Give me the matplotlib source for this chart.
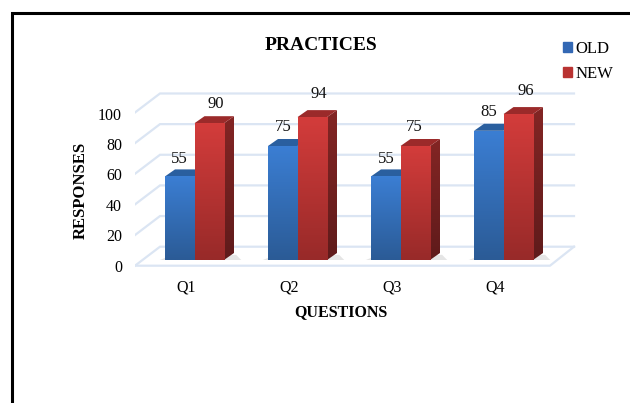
import matplotlib
matplotlib.use('Agg')
import matplotlib.pyplot as plt
import matplotlib.transforms as mtrans
from matplotlib.lines import Line2D
from matplotlib.patches import Patch, Polygon
import numpy as np

plt.rcParams['font.family'] = ['Liberation Serif', 'DejaVu Serif']

questions = ['Q1', 'Q2', 'Q3', 'Q4']
old_values = [55, 75, 55, 85]
new_values = [90, 94, 75, 96]
y_ticks = [0, 20, 40, 60, 80, 100]

W, H = 630, 403
fig = plt.figure(figsize=(W / 100, H / 100), dpi=100)

# pixel layout of the plot, x = 194.5 + 103 * category, y = 260 - 1.52 * value
X0, X_STEP, Y0, Y_STEP = 194.5, 103.0, 260.0, 1.52
px_left, px_right, px_top, px_bottom = 135, 580, 85, 270
ax = fig.add_axes([px_left / W, 1 - px_bottom / H, (px_right - px_left) / W, (px_bottom - px_top) / H])
ax.set_xlim((px_left - X0) / X_STEP, (px_right - X0) / X_STEP)
ax.set_ylim((Y0 - px_bottom) / Y_STEP, (Y0 - px_top) / Y_STEP)
ax.patch.set_alpha(0)
for s in ax.spines.values():
    s.set_visible(False)

bar_w = 29.5 / X_STEP
depth_x = 10 / X_STEP
depth_y = 7 / Y_STEP

# wall and floor offsets of the fake 3d box
front_x = (135 - X0) / X_STEP
back_x = (160 - X0) / X_STEP
end_front = (550 - X0) / X_STEP
end_back = (574 - X0) / X_STEP
front_y = -5.7 / Y_STEP
back_y = 13.3 / Y_STEP
grid_scale = 1.008
grid_col = '#dbe5f3'

for v in y_ticks:
    vy = v * grid_scale
    ax.plot([front_x, back_x, end_back], [vy + front_y, vy + back_y, vy + back_y],
            color=grid_col, lw=1.6, zorder=1, solid_joinstyle='miter')
ax.plot([front_x, end_front, end_back], [front_y, front_y, back_y], color=grid_col, lw=1.6, zorder=1)


def gradient_bars(xs, values, top_col, bottom_col, roof_col, side_top, side_bottom):
    bars = ax.bar(xs, values, width=bar_w, color='none', linewidth=0, zorder=4)
    for b, v in zip(bars, values):
        x0, x1 = b.get_x(), b.get_x() + b.get_width()
        # floor shadow, light and short
        ax.add_patch(Polygon([(x0 - 0.05, 0), (x1 + depth_x + 0.07, 0), (x1 + depth_x + 0.02, depth_y * 0.75),
                              (x0, depth_y * 0.3)], closed=True, color='#d4d4d4', alpha=0.6, lw=0, zorder=2))
        # right side
        side = Polygon([(x1, 0), (x1 + depth_x, depth_y), (x1 + depth_x, v + depth_y), (x1, v)],
                       closed=True, color='none', lw=0, zorder=3)
        ax.add_patch(side)
        grad = np.linspace(0, 1, 64)[:, None, None]
        img = np.array(side_top)[None, None, :] * (1 - grad) + np.array(side_bottom)[None, None, :] * grad
        im = ax.imshow(img, extent=[x1, x1 + depth_x, 0, v + depth_y], origin='upper',
                       aspect='auto', zorder=3, interpolation='bilinear')
        im.set_clip_path(side)
        # roof
        ax.add_patch(Polygon([(x0, v), (x1, v), (x1 + depth_x, v + depth_y), (x0 + depth_x, v + depth_y)],
                             closed=True, color=roof_col, lw=0, zorder=3))
        # front
        img = np.array(top_col)[None, None, :] * (1 - grad) + np.array(bottom_col)[None, None, :] * grad
        im = ax.imshow(img, extent=[x0, x1, 0, v], origin='upper', aspect='auto',
                       zorder=4, interpolation='bilinear')
        im.set_clip_path(b)
    return bars


def rgb(h):
    return matplotlib.colors.to_rgb(h)


x = np.arange(len(questions))
gradient_bars(x - bar_w / 2, old_values, rgb('#3b7ed3'), rgb('#2b5b96'), '#2a5f9f', rgb('#2a5f9f'), rgb('#1f4470'))
gradient_bars(x + bar_w / 2, new_values, rgb('#d33c3b'), rgb('#982a29'), '#9b2a2a', rgb('#832524'), rgb('#5f1b1b'))

ax.set_xlim((px_left - X0) / X_STEP, (px_right - X0) / X_STEP)
ax.set_ylim((Y0 - px_bottom) / Y_STEP, (Y0 - px_top) / Y_STEP)

# data labels, pixel nudges from the top of each bar
old_dx, old_gap = [0, 0, 1, 0], [17, 19, 17, 19]
new_dx, new_gap = [7, 7, -1, 8], [19, 23, 19, 23]
for xi, v, dx, gap in zip(x - bar_w / 2, old_values, old_dx, old_gap):
    ax.annotate(str(v), (xi, v), xytext=(dx * 0.72, gap * 0.72), textcoords='offset points',
                ha='center', va='center', fontsize=12, color='#111111', zorder=6)
for xi, v, dx, gap in zip(x + bar_w / 2, new_values, new_dx, new_gap):
    ax.annotate(str(v), (xi, v), xytext=(dx * 0.72, gap * 0.72), textcoords='offset points',
                ha='center', va='center', fontsize=12, color='#111111', zorder=6)

# ticks sit on the front edge of the box, so shift their labels
ax.set_yticks(y_ticks)
ax.set_xticks(x)
ax.set_xticklabels(questions)
ax.tick_params(axis='both', length=0, labelsize=11.5)
ax.tick_params(axis='y', pad=13 * 0.72)
ax.tick_params(axis='x', pad=9.5 * 0.72)
y_shift = mtrans.ScaledTranslation(0, -0.057, fig.dpi_scale_trans)
x_shift = mtrans.ScaledTranslation(-0.085, 0, fig.dpi_scale_trans)
for lab in ax.get_yticklabels():
    lab.set_transform(lab.get_transform() + y_shift)
for lab in ax.get_xticklabels():
    lab.set_transform(lab.get_transform() + x_shift)

fig.text(321.5 / W, 1 - 46 / H, 'PRACTICES', fontsize=14, fontweight='bold', ha='center', va='center')
fig.text(341 / W, 1 - 312 / H, 'QUESTIONS', fontsize=11.5, fontweight='bold', ha='center', va='center')
fig.text(81 / W, 1 - 190 / H, 'RESPONSES', fontsize=12, fontweight='bold', ha='center', va='center', rotation=90)

handles = [Patch(color='#3368b4', label='OLD'), Patch(color='#b93332', label='NEW')]
fig.legend(handles=handles, loc='upper left', bbox_to_anchor=(563 / W, 1 - 41 / H), frameon=False,
           fontsize=12, handlelength=0.55, handleheight=0.55, handletextpad=0.22, labelspacing=0.55,
           borderpad=0, borderaxespad=0)

# black frame of the page, open at the bottom and right
fig.add_artist(Line2D([11.5 / W, 11.5 / W, 1], [0, 1 - 12.5 / H, 1 - 12.5 / H], color='black', lw=2.2,
                      solid_joinstyle='miter', transform=fig.transFigure))

fig.savefig('out.png', dpi=100)
